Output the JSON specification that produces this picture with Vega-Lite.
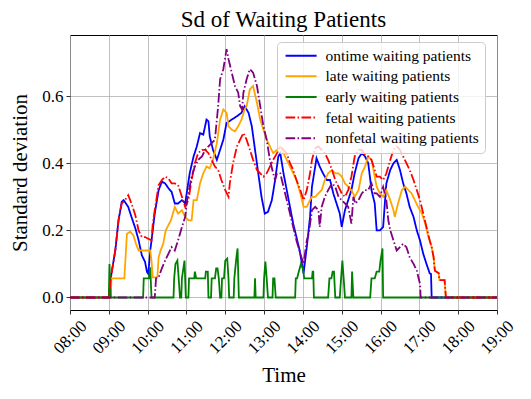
{
"$schema":"https://vega.github.io/schema/vega-lite/v6.json",
"width":427,"height":275,
"autosize":{"type":"none"},
"padding":{"left":70,"top":35,"right":34,"bottom":89},
"background":"white",
"title":{"text":"Sd of Waiting Patients","font":"Liberation Serif","fontSize":23,"fontWeight":"normal","color":"black","offset":3},
"data":{"format":{"parse":{"t":"date:'%H:%M'"}},"values":[
{"s":"ontime","t":"08:00","v":0},{"s":"ontime","t":"09:00","v":0},{"s":"ontime","t":"09:04","v":0.07},{"s":"ontime","t":"09:10","v":0.14},{"s":"ontime","t":"09:15","v":0.23},{"s":"ontime","t":"09:20","v":0.285},{"s":"ontime","t":"09:23","v":0.29},{"s":"ontime","t":"09:30","v":0.27},{"s":"ontime","t":"09:35","v":0.24},{"s":"ontime","t":"09:41","v":0.206},{"s":"ontime","t":"09:46","v":0.171},{"s":"ontime","t":"09:51","v":0.126},{"s":"ontime","t":"09:56","v":0.106},{"s":"ontime","t":"09:59","v":0.076},{"s":"ontime","t":"10:01","v":0.07},{"s":"ontime","t":"10:04","v":0.14},{"s":"ontime","t":"10:06","v":0.17},{"s":"ontime","t":"10:11","v":0.25},{"s":"ontime","t":"10:17","v":0.32},{"s":"ontime","t":"10:22","v":0.345},{"s":"ontime","t":"10:27","v":0.34},{"s":"ontime","t":"10:32","v":0.326},{"s":"ontime","t":"10:37","v":0.315},{"s":"ontime","t":"10:42","v":0.28},{"s":"ontime","t":"10:47","v":0.28},{"s":"ontime","t":"10:53","v":0.29},{"s":"ontime","t":"10:58","v":0.28},{"s":"ontime","t":"11:05","v":0.37},{"s":"ontime","t":"11:11","v":0.42},{"s":"ontime","t":"11:16","v":0.45},{"s":"ontime","t":"11:21","v":0.49},{"s":"ontime","t":"11:26","v":0.485},{"s":"ontime","t":"11:31","v":0.53},{"s":"ontime","t":"11:34","v":0.525},{"s":"ontime","t":"11:36","v":0.48},{"s":"ontime","t":"11:41","v":0.44},{"s":"ontime","t":"11:47","v":0.41},{"s":"ontime","t":"11:52","v":0.44},{"s":"ontime","t":"11:57","v":0.47},{"s":"ontime","t":"12:02","v":0.52},{"s":"ontime","t":"12:10","v":0.53},{"s":"ontime","t":"12:18","v":0.54},{"s":"ontime","t":"12:25","v":0.55},{"s":"ontime","t":"12:30","v":0.57},{"s":"ontime","t":"12:36","v":0.55},{"s":"ontime","t":"12:41","v":0.51},{"s":"ontime","t":"12:46","v":0.44},{"s":"ontime","t":"12:51","v":0.37},{"s":"ontime","t":"12:56","v":0.3},{"s":"ontime","t":"13:01","v":0.25},{"s":"ontime","t":"13:06","v":0.255},{"s":"ontime","t":"13:12","v":0.29},{"s":"ontime","t":"13:17","v":0.35},{"s":"ontime","t":"13:22","v":0.42},{"s":"ontime","t":"13:25","v":0.43},{"s":"ontime","t":"13:30","v":0.37},{"s":"ontime","t":"13:35","v":0.32},{"s":"ontime","t":"13:40","v":0.27},{"s":"ontime","t":"13:45","v":0.22},{"s":"ontime","t":"13:50","v":0.18},{"s":"ontime","t":"13:55","v":0.14},{"s":"ontime","t":"14:01","v":0.072},{"s":"ontime","t":"14:06","v":0.15},{"s":"ontime","t":"14:11","v":0.24},{"s":"ontime","t":"14:14","v":0.33},{"s":"ontime","t":"14:19","v":0.39},{"s":"ontime","t":"14:21","v":0.415},{"s":"ontime","t":"14:26","v":0.39},{"s":"ontime","t":"14:31","v":0.37},{"s":"ontime","t":"14:37","v":0.35},{"s":"ontime","t":"14:42","v":0.35},{"s":"ontime","t":"14:47","v":0.31},{"s":"ontime","t":"14:52","v":0.28},{"s":"ontime","t":"14:57","v":0.25},{"s":"ontime","t":"15:00","v":0.21},{"s":"ontime","t":"15:05","v":0.26},{"s":"ontime","t":"15:10","v":0.29},{"s":"ontime","t":"15:15","v":0.32},{"s":"ontime","t":"15:20","v":0.37},{"s":"ontime","t":"15:26","v":0.415},{"s":"ontime","t":"15:31","v":0.43},{"s":"ontime","t":"15:36","v":0.42},{"s":"ontime","t":"15:41","v":0.4},{"s":"ontime","t":"15:46","v":0.32},{"s":"ontime","t":"15:51","v":0.28},{"s":"ontime","t":"15:54","v":0.2},{"s":"ontime","t":"15:59","v":0.2},{"s":"ontime","t":"16:04","v":0.21},{"s":"ontime","t":"16:07","v":0.29},{"s":"ontime","t":"16:09","v":0.34},{"s":"ontime","t":"16:15","v":0.38},{"s":"ontime","t":"16:20","v":0.4},{"s":"ontime","t":"16:25","v":0.41},{"s":"ontime","t":"16:30","v":0.38},{"s":"ontime","t":"16:35","v":0.34},{"s":"ontime","t":"16:40","v":0.31},{"s":"ontime","t":"16:45","v":0.27},{"s":"ontime","t":"16:51","v":0.24},{"s":"ontime","t":"16:56","v":0.2},{"s":"ontime","t":"17:01","v":0.17},{"s":"ontime","t":"17:06","v":0.13},{"s":"ontime","t":"17:11","v":0.1},{"s":"ontime","t":"17:16","v":0.072},{"s":"ontime","t":"17:18","v":0.07},{"s":"ontime","t":"17:19","v":0},{"s":"ontime","t":"19:00","v":0},
{"s":"late","t":"08:00","v":0},{"s":"late","t":"09:03","v":0},{"s":"late","t":"09:04","v":0.057},{"s":"late","t":"09:24","v":0.057},{"s":"late","t":"09:28","v":0.19},{"s":"late","t":"09:33","v":0.196},{"s":"late","t":"09:38","v":0.185},{"s":"late","t":"09:42","v":0.16},{"s":"late","t":"09:46","v":0.14},{"s":"late","t":"10:04","v":0.14},{"s":"late","t":"10:06","v":0.11},{"s":"late","t":"10:08","v":0.06},{"s":"late","t":"10:15","v":0.06},{"s":"late","t":"10:17","v":0.12},{"s":"late","t":"10:20","v":0.14},{"s":"late","t":"10:24","v":0.16},{"s":"late","t":"10:28","v":0.2},{"s":"late","t":"10:36","v":0.23},{"s":"late","t":"10:42","v":0.27},{"s":"late","t":"10:47","v":0.25},{"s":"late","t":"10:53","v":0.26},{"s":"late","t":"10:58","v":0.24},{"s":"late","t":"11:03","v":0.23},{"s":"late","t":"11:08","v":0.23},{"s":"late","t":"11:11","v":0.29},{"s":"late","t":"11:16","v":0.29},{"s":"late","t":"11:21","v":0.34},{"s":"late","t":"11:26","v":0.37},{"s":"late","t":"11:31","v":0.39},{"s":"late","t":"11:36","v":0.385},{"s":"late","t":"11:41","v":0.41},{"s":"late","t":"11:47","v":0.46},{"s":"late","t":"11:52","v":0.53},{"s":"late","t":"11:57","v":0.56},{"s":"late","t":"12:02","v":0.55},{"s":"late","t":"12:05","v":0.51},{"s":"late","t":"12:10","v":0.5},{"s":"late","t":"12:15","v":0.495},{"s":"late","t":"12:20","v":0.51},{"s":"late","t":"12:25","v":0.53},{"s":"late","t":"12:30","v":0.56},{"s":"late","t":"12:33","v":0.57},{"s":"late","t":"12:36","v":0.6},{"s":"late","t":"12:38","v":0.62},{"s":"late","t":"12:43","v":0.63},{"s":"late","t":"12:49","v":0.58},{"s":"late","t":"12:54","v":0.53},{"s":"late","t":"12:59","v":0.5},{"s":"late","t":"13:04","v":0.47},{"s":"late","t":"13:09","v":0.45},{"s":"late","t":"13:14","v":0.43},{"s":"late","t":"13:20","v":0.44},{"s":"late","t":"13:25","v":0.45},{"s":"late","t":"13:30","v":0.43},{"s":"late","t":"13:35","v":0.41},{"s":"late","t":"13:40","v":0.39},{"s":"late","t":"13:45","v":0.37},{"s":"late","t":"13:50","v":0.35},{"s":"late","t":"13:56","v":0.31},{"s":"late","t":"14:01","v":0.27},{"s":"late","t":"14:06","v":0.27},{"s":"late","t":"14:11","v":0.29},{"s":"late","t":"14:14","v":0.3},{"s":"late","t":"14:19","v":0.3},{"s":"late","t":"14:24","v":0.31},{"s":"late","t":"14:29","v":0.32},{"s":"late","t":"14:34","v":0.35},{"s":"late","t":"14:39","v":0.37},{"s":"late","t":"14:45","v":0.38},{"s":"late","t":"14:50","v":0.37},{"s":"late","t":"14:55","v":0.37},{"s":"late","t":"15:00","v":0.36},{"s":"late","t":"15:05","v":0.34},{"s":"late","t":"15:10","v":0.33},{"s":"late","t":"15:15","v":0.32},{"s":"late","t":"15:20","v":0.3},{"s":"late","t":"15:26","v":0.32},{"s":"late","t":"15:31","v":0.37},{"s":"late","t":"15:36","v":0.39},{"s":"late","t":"15:41","v":0.42},{"s":"late","t":"15:46","v":0.41},{"s":"late","t":"15:51","v":0.36},{"s":"late","t":"15:54","v":0.33},{"s":"late","t":"15:59","v":0.31},{"s":"late","t":"16:04","v":0.3},{"s":"late","t":"16:09","v":0.32},{"s":"late","t":"16:15","v":0.29},{"s":"late","t":"16:20","v":0.26},{"s":"late","t":"16:22","v":0.24},{"s":"late","t":"16:27","v":0.28},{"s":"late","t":"16:33","v":0.32},{"s":"late","t":"16:38","v":0.33},{"s":"late","t":"16:43","v":0.32},{"s":"late","t":"16:48","v":0.31},{"s":"late","t":"16:53","v":0.29},{"s":"late","t":"16:58","v":0.27},{"s":"late","t":"17:04","v":0.25},{"s":"late","t":"17:09","v":0.22},{"s":"late","t":"17:14","v":0.18},{"s":"late","t":"17:16","v":0.17},{"s":"late","t":"17:19","v":0.15},{"s":"late","t":"17:22","v":0.12},{"s":"late","t":"17:24","v":0.08},{"s":"late","t":"17:30","v":0.072},{"s":"late","t":"17:31","v":0.052},{"s":"late","t":"17:39","v":0.052},{"s":"late","t":"17:41","v":0},{"s":"late","t":"19:00","v":0},
{"s":"early","t":"08:00","v":0},{"s":"early","t":"09:00","v":0},{"s":"early","t":"09:01","v":0.1},{"s":"early","t":"09:03","v":0},{"s":"early","t":"09:53","v":0},{"s":"early","t":"09:54","v":0.057},{"s":"early","t":"10:02","v":0.057},{"s":"early","t":"10:04","v":0.09},{"s":"early","t":"10:06","v":0},{"s":"early","t":"10:40","v":0},{"s":"early","t":"10:41","v":0.057},{"s":"early","t":"10:43","v":0.1},{"s":"early","t":"10:46","v":0.11},{"s":"early","t":"10:48","v":0.057},{"s":"early","t":"10:50","v":0},{"s":"early","t":"10:52","v":0},{"s":"early","t":"10:53","v":0.057},{"s":"early","t":"10:57","v":0.11},{"s":"early","t":"10:59","v":0},{"s":"early","t":"11:03","v":0},{"s":"early","t":"11:04","v":0.057},{"s":"early","t":"11:12","v":0.057},{"s":"early","t":"11:13","v":0.077},{"s":"early","t":"11:15","v":0.057},{"s":"early","t":"11:29","v":0.057},{"s":"early","t":"11:30","v":0.077},{"s":"early","t":"11:33","v":0.077},{"s":"early","t":"11:34","v":0},{"s":"early","t":"11:38","v":0},{"s":"early","t":"11:39","v":0.057},{"s":"early","t":"11:44","v":0.057},{"s":"early","t":"11:46","v":0.087},{"s":"early","t":"11:48","v":0.087},{"s":"early","t":"11:50","v":0.057},{"s":"early","t":"11:52","v":0},{"s":"early","t":"11:54","v":0},{"s":"early","t":"11:55","v":0.057},{"s":"early","t":"11:58","v":0.057},{"s":"early","t":"12:00","v":0.11},{"s":"early","t":"12:03","v":0.116},{"s":"early","t":"12:05","v":0.057},{"s":"early","t":"12:06","v":0},{"s":"early","t":"12:13","v":0},{"s":"early","t":"12:14","v":0.057},{"s":"early","t":"12:17","v":0.116},{"s":"early","t":"12:19","v":0.146},{"s":"early","t":"12:21","v":0},{"s":"early","t":"12:45","v":0},{"s":"early","t":"12:46","v":0.057},{"s":"early","t":"12:47","v":0},{"s":"early","t":"12:59","v":0},{"s":"early","t":"13:00","v":0.057},{"s":"early","t":"13:02","v":0.107},{"s":"early","t":"13:04","v":0.057},{"s":"early","t":"13:06","v":0},{"s":"early","t":"13:13","v":0},{"s":"early","t":"13:14","v":0.057},{"s":"early","t":"13:16","v":0.057},{"s":"early","t":"13:18","v":0},{"s":"early","t":"13:48","v":0},{"s":"early","t":"13:49","v":0.057},{"s":"early","t":"13:51","v":0.057},{"s":"early","t":"13:54","v":0.08},{"s":"early","t":"13:57","v":0.1},{"s":"early","t":"14:00","v":0.087},{"s":"early","t":"14:02","v":0.057},{"s":"early","t":"14:14","v":0.057},{"s":"early","t":"14:15","v":0.077},{"s":"early","t":"14:16","v":0.077},{"s":"early","t":"14:17","v":0},{"s":"early","t":"14:39","v":0},{"s":"early","t":"14:41","v":0.057},{"s":"early","t":"14:44","v":0.057},{"s":"early","t":"14:46","v":0.077},{"s":"early","t":"14:48","v":0.077},{"s":"early","t":"14:50","v":0},{"s":"early","t":"14:57","v":0},{"s":"early","t":"14:59","v":0.057},{"s":"early","t":"15:01","v":0.11},{"s":"early","t":"15:03","v":0.057},{"s":"early","t":"15:05","v":0},{"s":"early","t":"15:15","v":0},{"s":"early","t":"15:16","v":0.077},{"s":"early","t":"15:18","v":0},{"s":"early","t":"15:44","v":0},{"s":"early","t":"15:46","v":0.057},{"s":"early","t":"15:51","v":0.057},{"s":"early","t":"15:54","v":0.077},{"s":"early","t":"15:58","v":0.077},{"s":"early","t":"16:00","v":0.11},{"s":"early","t":"16:03","v":0.146},{"s":"early","t":"16:04","v":0},{"s":"early","t":"19:00","v":0},
{"s":"fetal","t":"08:00","v":0},{"s":"fetal","t":"09:00","v":0},{"s":"fetal","t":"09:04","v":0.07},{"s":"fetal","t":"09:10","v":0.14},{"s":"fetal","t":"09:15","v":0.23},{"s":"fetal","t":"09:20","v":0.28},{"s":"fetal","t":"09:25","v":0.29},{"s":"fetal","t":"09:30","v":0.305},{"s":"fetal","t":"09:35","v":0.28},{"s":"fetal","t":"09:41","v":0.245},{"s":"fetal","t":"09:46","v":0.2},{"s":"fetal","t":"09:51","v":0.18},{"s":"fetal","t":"09:56","v":0.18},{"s":"fetal","t":"10:01","v":0.175},{"s":"fetal","t":"10:06","v":0.17},{"s":"fetal","t":"10:08","v":0.22},{"s":"fetal","t":"10:11","v":0.26},{"s":"fetal","t":"10:17","v":0.335},{"s":"fetal","t":"10:22","v":0.35},{"s":"fetal","t":"10:27","v":0.36},{"s":"fetal","t":"10:32","v":0.355},{"s":"fetal","t":"10:37","v":0.34},{"s":"fetal","t":"10:42","v":0.34},{"s":"fetal","t":"10:47","v":0.335},{"s":"fetal","t":"10:53","v":0.3},{"s":"fetal","t":"10:58","v":0.27},{"s":"fetal","t":"11:03","v":0.29},{"s":"fetal","t":"11:08","v":0.35},{"s":"fetal","t":"11:13","v":0.4},{"s":"fetal","t":"11:18","v":0.43},{"s":"fetal","t":"11:24","v":0.44},{"s":"fetal","t":"11:29","v":0.44},{"s":"fetal","t":"11:34","v":0.43},{"s":"fetal","t":"11:39","v":0.41},{"s":"fetal","t":"11:44","v":0.39},{"s":"fetal","t":"11:49","v":0.38},{"s":"fetal","t":"11:54","v":0.35},{"s":"fetal","t":"12:00","v":0.32},{"s":"fetal","t":"12:05","v":0.3},{"s":"fetal","t":"12:07","v":0.34},{"s":"fetal","t":"12:12","v":0.4},{"s":"fetal","t":"12:18","v":0.45},{"s":"fetal","t":"12:23","v":0.47},{"s":"fetal","t":"12:28","v":0.49},{"s":"fetal","t":"12:33","v":0.47},{"s":"fetal","t":"12:38","v":0.44},{"s":"fetal","t":"12:43","v":0.41},{"s":"fetal","t":"12:49","v":0.38},{"s":"fetal","t":"12:54","v":0.37},{"s":"fetal","t":"12:59","v":0.36},{"s":"fetal","t":"13:04","v":0.37},{"s":"fetal","t":"13:09","v":0.39},{"s":"fetal","t":"13:14","v":0.41},{"s":"fetal","t":"13:20","v":0.43},{"s":"fetal","t":"13:25","v":0.45},{"s":"fetal","t":"13:30","v":0.44},{"s":"fetal","t":"13:35","v":0.43},{"s":"fetal","t":"13:40","v":0.4},{"s":"fetal","t":"13:45","v":0.38},{"s":"fetal","t":"13:50","v":0.35},{"s":"fetal","t":"13:56","v":0.32},{"s":"fetal","t":"14:01","v":0.29},{"s":"fetal","t":"14:06","v":0.32},{"s":"fetal","t":"14:11","v":0.37},{"s":"fetal","t":"14:14","v":0.41},{"s":"fetal","t":"14:19","v":0.445},{"s":"fetal","t":"14:24","v":0.45},{"s":"fetal","t":"14:29","v":0.44},{"s":"fetal","t":"14:34","v":0.43},{"s":"fetal","t":"14:39","v":0.41},{"s":"fetal","t":"14:45","v":0.38},{"s":"fetal","t":"14:50","v":0.35},{"s":"fetal","t":"14:55","v":0.33},{"s":"fetal","t":"15:00","v":0.31},{"s":"fetal","t":"15:05","v":0.3},{"s":"fetal","t":"15:10","v":0.32},{"s":"fetal","t":"15:15","v":0.36},{"s":"fetal","t":"15:20","v":0.42},{"s":"fetal","t":"15:26","v":0.44},{"s":"fetal","t":"15:31","v":0.44},{"s":"fetal","t":"15:36","v":0.425},{"s":"fetal","t":"15:41","v":0.42},{"s":"fetal","t":"15:46","v":0.41},{"s":"fetal","t":"15:51","v":0.38},{"s":"fetal","t":"15:54","v":0.36},{"s":"fetal","t":"15:59","v":0.36},{"s":"fetal","t":"16:04","v":0.35},{"s":"fetal","t":"16:09","v":0.37},{"s":"fetal","t":"16:15","v":0.41},{"s":"fetal","t":"16:20","v":0.44},{"s":"fetal","t":"16:25","v":0.45},{"s":"fetal","t":"16:30","v":0.44},{"s":"fetal","t":"16:35","v":0.42},{"s":"fetal","t":"16:40","v":0.4},{"s":"fetal","t":"16:45","v":0.38},{"s":"fetal","t":"16:51","v":0.35},{"s":"fetal","t":"16:56","v":0.32},{"s":"fetal","t":"17:01","v":0.29},{"s":"fetal","t":"17:06","v":0.25},{"s":"fetal","t":"17:11","v":0.21},{"s":"fetal","t":"17:16","v":0.17},{"s":"fetal","t":"17:19","v":0.15},{"s":"fetal","t":"17:22","v":0.12},{"s":"fetal","t":"17:24","v":0.08},{"s":"fetal","t":"17:30","v":0.072},{"s":"fetal","t":"17:31","v":0.052},{"s":"fetal","t":"17:39","v":0.052},{"s":"fetal","t":"17:41","v":0},{"s":"fetal","t":"19:00","v":0},
{"s":"nonfetal","t":"08:00","v":0},{"s":"nonfetal","t":"10:11","v":0},{"s":"nonfetal","t":"10:13","v":0.057},{"s":"nonfetal","t":"10:17","v":0.06},{"s":"nonfetal","t":"10:22","v":0.087},{"s":"nonfetal","t":"10:27","v":0.11},{"s":"nonfetal","t":"10:32","v":0.13},{"s":"nonfetal","t":"10:37","v":0.15},{"s":"nonfetal","t":"10:42","v":0.14},{"s":"nonfetal","t":"10:47","v":0.17},{"s":"nonfetal","t":"10:53","v":0.21},{"s":"nonfetal","t":"10:58","v":0.24},{"s":"nonfetal","t":"11:01","v":0.29},{"s":"nonfetal","t":"11:05","v":0.33},{"s":"nonfetal","t":"11:08","v":0.36},{"s":"nonfetal","t":"11:13","v":0.39},{"s":"nonfetal","t":"11:18","v":0.41},{"s":"nonfetal","t":"11:24","v":0.42},{"s":"nonfetal","t":"11:29","v":0.44},{"s":"nonfetal","t":"11:34","v":0.45},{"s":"nonfetal","t":"11:39","v":0.46},{"s":"nonfetal","t":"11:44","v":0.47},{"s":"nonfetal","t":"11:46","v":0.51},{"s":"nonfetal","t":"11:49","v":0.57},{"s":"nonfetal","t":"11:52","v":0.65},{"s":"nonfetal","t":"11:57","v":0.68},{"s":"nonfetal","t":"12:02","v":0.74},{"s":"nonfetal","t":"12:05","v":0.71},{"s":"nonfetal","t":"12:10","v":0.67},{"s":"nonfetal","t":"12:15","v":0.63},{"s":"nonfetal","t":"12:20","v":0.61},{"s":"nonfetal","t":"12:23","v":0.57},{"s":"nonfetal","t":"12:26","v":0.56},{"s":"nonfetal","t":"12:28","v":0.61},{"s":"nonfetal","t":"12:33","v":0.65},{"s":"nonfetal","t":"12:38","v":0.68},{"s":"nonfetal","t":"12:43","v":0.67},{"s":"nonfetal","t":"12:49","v":0.63},{"s":"nonfetal","t":"12:54","v":0.57},{"s":"nonfetal","t":"12:59","v":0.51},{"s":"nonfetal","t":"13:04","v":0.47},{"s":"nonfetal","t":"13:09","v":0.41},{"s":"nonfetal","t":"13:14","v":0.37},{"s":"nonfetal","t":"13:17","v":0.35},{"s":"nonfetal","t":"13:20","v":0.37},{"s":"nonfetal","t":"13:25","v":0.37},{"s":"nonfetal","t":"13:30","v":0.33},{"s":"nonfetal","t":"13:35","v":0.29},{"s":"nonfetal","t":"13:40","v":0.25},{"s":"nonfetal","t":"13:45","v":0.21},{"s":"nonfetal","t":"13:50","v":0.17},{"s":"nonfetal","t":"13:56","v":0.13},{"s":"nonfetal","t":"14:01","v":0.1},{"s":"nonfetal","t":"14:06","v":0.17},{"s":"nonfetal","t":"14:09","v":0.19},{"s":"nonfetal","t":"14:14","v":0.26},{"s":"nonfetal","t":"14:19","v":0.27},{"s":"nonfetal","t":"14:24","v":0.26},{"s":"nonfetal","t":"14:26","v":0.21},{"s":"nonfetal","t":"14:29","v":0.27},{"s":"nonfetal","t":"14:34","v":0.3},{"s":"nonfetal","t":"14:39","v":0.32},{"s":"nonfetal","t":"14:45","v":0.34},{"s":"nonfetal","t":"14:50","v":0.33},{"s":"nonfetal","t":"14:55","v":0.3},{"s":"nonfetal","t":"15:00","v":0.29},{"s":"nonfetal","t":"15:05","v":0.28},{"s":"nonfetal","t":"15:10","v":0.27},{"s":"nonfetal","t":"15:15","v":0.22},{"s":"nonfetal","t":"15:18","v":0.3},{"s":"nonfetal","t":"15:21","v":0.28},{"s":"nonfetal","t":"15:26","v":0.29},{"s":"nonfetal","t":"15:31","v":0.31},{"s":"nonfetal","t":"15:36","v":0.32},{"s":"nonfetal","t":"15:41","v":0.32},{"s":"nonfetal","t":"15:46","v":0.34},{"s":"nonfetal","t":"15:51","v":0.31},{"s":"nonfetal","t":"15:54","v":0.31},{"s":"nonfetal","t":"15:59","v":0.3},{"s":"nonfetal","t":"16:04","v":0.33},{"s":"nonfetal","t":"16:09","v":0.29},{"s":"nonfetal","t":"16:12","v":0.23},{"s":"nonfetal","t":"16:15","v":0.2},{"s":"nonfetal","t":"16:20","v":0.17},{"s":"nonfetal","t":"16:25","v":0.14},{"s":"nonfetal","t":"16:30","v":0.15},{"s":"nonfetal","t":"16:35","v":0.16},{"s":"nonfetal","t":"16:40","v":0.15},{"s":"nonfetal","t":"16:45","v":0.12},{"s":"nonfetal","t":"16:51","v":0.1},{"s":"nonfetal","t":"16:56","v":0.08},{"s":"nonfetal","t":"17:01","v":0.04},{"s":"nonfetal","t":"17:02","v":0},{"s":"nonfetal","t":"19:00","v":0}
]},
"mark":{"type":"line","strokeWidth":1.8,"clip":true},
"encoding":{
"x":{"field":"t","type":"temporal","title":"Time",
"scale":{"domain":[{"year":1900,"month":1,"date":1,"hours":8},{"year":1900,"month":1,"date":1,"hours":19}]},
"axis":{"format":"%H:%M","labelAngle":-45,"labelAlign":"center","labelBaseline":"middle","labelPadding":23,"titlePadding":8,
"values":[{"year":1900,"month":1,"date":1,"hours":8},{"year":1900,"month":1,"date":1,"hours":9},{"year":1900,"month":1,"date":1,"hours":10},{"year":1900,"month":1,"date":1,"hours":11},{"year":1900,"month":1,"date":1,"hours":12},{"year":1900,"month":1,"date":1,"hours":13},{"year":1900,"month":1,"date":1,"hours":14},{"year":1900,"month":1,"date":1,"hours":15},{"year":1900,"month":1,"date":1,"hours":16},{"year":1900,"month":1,"date":1,"hours":17},{"year":1900,"month":1,"date":1,"hours":18},{"year":1900,"month":1,"date":1,"hours":19}]}},
"y":{"field":"v","type":"quantitative","title":"Standard deviation",
"scale":{"domain":[-0.0373,0.782],"nice":false,"zero":false},
"axis":{"values":[0,0.2,0.4,0.6],"format":".1f","labelPadding":3,"titlePadding":11}},
"color":{"field":"s","type":"nominal",
"scale":{"domain":["ontime","late","early","fetal","nonfetal"],"range":["#0000ff","#ffa500","#008000","#ff0000","#800080"]},
"legend":{"orient":"none","legendX":207,"legendY":7,"title":null,"symbolType":"M-1,0H5","symbolSize":107,"symbolStrokeWidth":2,"labelFont":"Liberation Serif","labelFontSize":15.5,"labelColor":"black","labelOffset":27,"rowPadding":3.6,"padding":6,"fillColor":"rgba(255,255,255,0.8)","strokeColor":"#cccccc","cornerRadius":4,"labelLimit":300,"labelExpr":"datum.label + ' waiting patients'"}},
"strokeDash":{"field":"s","type":"nominal",
"scale":{"domain":["ontime","late","early","fetal","nonfetal"],"range":[[1,0],[1,0],[1,0],[9.6,2.4,1.5,2.4],[9.6,2.4,1.5,2.4]]},
"legend":{"orient":"none","legendX":207,"legendY":7,"title":null,"symbolType":"M-1,0H5","symbolSize":107,"symbolStrokeWidth":2,"labelFont":"Liberation Serif","labelFontSize":15.5,"labelColor":"black","labelOffset":27,"rowPadding":3.6,"padding":6,"fillColor":"rgba(255,255,255,0.8)","strokeColor":"#cccccc","cornerRadius":4,"labelLimit":300,"labelExpr":"datum.label + ' waiting patients'"}}
},
"config":{
"view":{"stroke":"black","strokeWidth":1},
"axis":{"domain":false,"grid":true,"gridColor":"#b0b0b0","gridWidth":0.8,"tickColor":"black","tickSize":4,"tickWidth":0.8,"labelFont":"Liberation Serif","labelFontSize":17,"labelColor":"black","titleFont":"Liberation Serif","titleFontSize":21,"titleFontWeight":"normal","titleColor":"black","labelOverlap":false,"labelFlush":false}
}
}
